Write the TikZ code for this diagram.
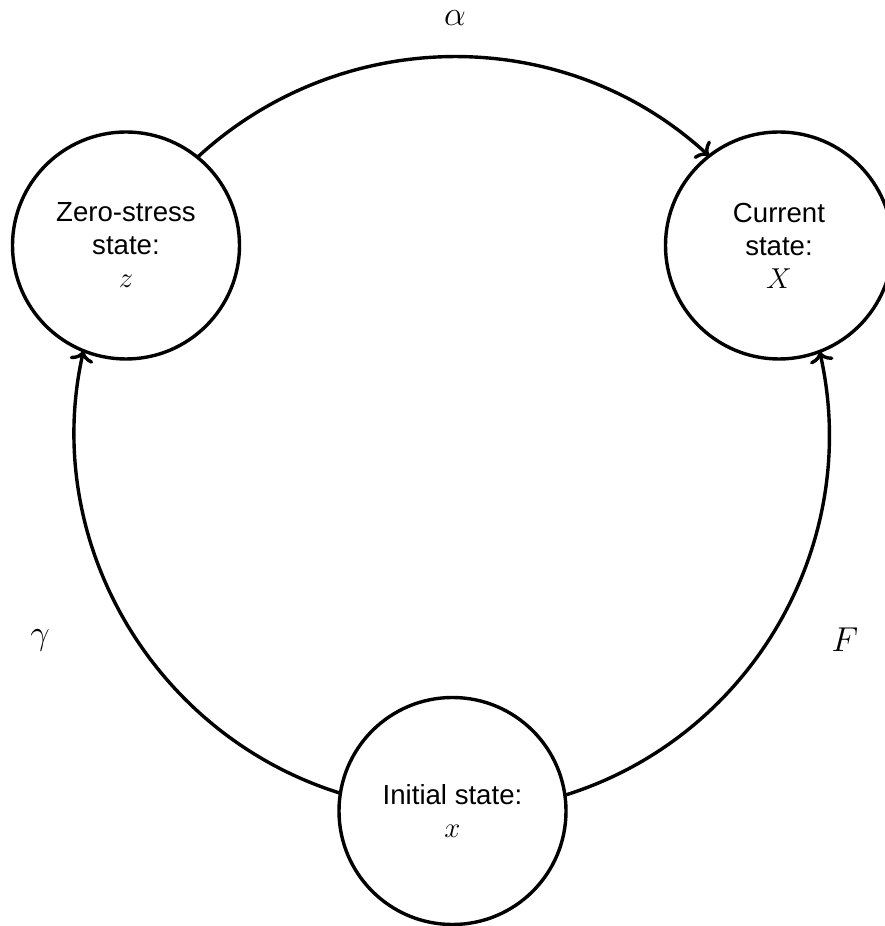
\documentclass[tikz,border=0pt]{standalone}
\usepackage{fontspec}
\setmainfont{Liberation Sans}
\usetikzlibrary{arrows.meta}

\begin{document}
\begin{tikzpicture}[x=0.5pt,y=0.5pt,
  state/.style={draw, circle, line width=1.7pt, minimum size=113.5pt, inner sep=0pt,
    outer sep=0pt, align=center, font=\fontsize{13.8}{16.5}\selectfont},
  lbl/.style={inner sep=0pt, font=\fontsize{17}{20}\selectfont},
  link/.style={line width=1.7pt, -{To[length=5.5pt,width=12pt]}, looseness=0.98}]

  \useasboundingbox (0,0) rectangle (884,926);

  \node[state] (zero) at (126,680.5) {Zero-stress\\state:\\$z$};
  \node[state] (current) at (779,680.5) {Current\\state:\\$X$};
  \node[state] (initial) at (452.5,115) {Initial state:\\$x$};

  \node[lbl] (alpha) at (455,908) {$\alpha$};
  \node[lbl] (gamma) at (40,286) {$\gamma$};
  \node[lbl] (F) at (845,286) {$F$};

  \draw[link] (zero.51.34) to[out=42.69, in=137.31] (current.128.66);
  \draw[link] (initial.171.34) to[out=162.69, in=257.31] (zero.248.66);
  \draw[link] (initial.8.66) to[out=17.31, in=282.69] (current.291.34);

\end{tikzpicture}
\end{document}
